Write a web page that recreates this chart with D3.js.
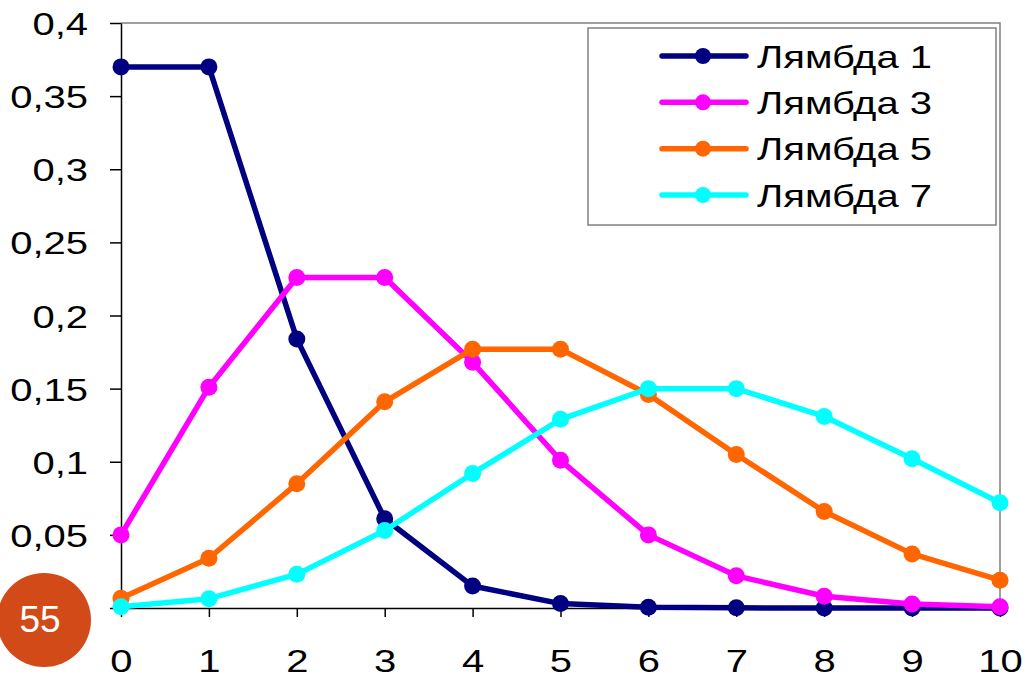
<!DOCTYPE html>
<html>
<head>
<meta charset="utf-8">
<script src="https://cdn.jsdelivr.net/npm/d3@7"></script>
<style>
  body { margin: 0; background: #fff; }
  text { font-family: "Liberation Sans", Arial, sans-serif; }
</style>
</head>
<body>
<div id="chart"></div>
<script>
// values (Poisson probabilities)
var xValues = [0, 1, 2, 3, 4, 5, 6, 7, 8, 9, 10];
var lambda1 = [0.37, 0.37, 0.184, 0.061, 0.015, 0.003, 0.0005, 0.0001, 0, 0, 0];
var lambda3 = [0.050, 0.151, 0.226, 0.226, 0.168, 0.101, 0.050, 0.022, 0.008, 0.0027, 0.0008];
var lambda5 = [0.0067, 0.034, 0.085, 0.141, 0.177, 0.177, 0.146, 0.105, 0.066, 0.037, 0.019];
var lambda7 = [0.0009, 0.0064, 0.023, 0.053, 0.092, 0.129, 0.150, 0.150, 0.131, 0.102, 0.072];
var seriesNames = ["Лямбда 1", "Лямбда 3", "Лямбда 5", "Лямбда 7"];
var seriesColors = ["#000080", "#ff00ff", "#ff6600", "#00ffff"];
var yTicks = [0, 0.05, 0.1, 0.15, 0.2, 0.25, 0.3, 0.35, 0.4];

var series = [lambda1, lambda3, lambda5, lambda7];

var width = 1027, height = 678;
var mLeft = 121, mRight = 1000, mTop = 23, mBottom = 608;
var stretch = 1.25; // the source text is drawn horizontally stretched

var svg = d3.select("#chart").append("svg")
  .attr("width", width)
  .attr("height", height);

var x = d3.scaleLinear().domain([0, 10]).range([mLeft, mRight]);
var y = d3.scaleLinear().domain([0, 0.4]).range([mBottom, mTop]);

// plot frame (top + right in gray)
svg.append("path")
  .attr("d", "M" + mLeft + "," + mTop + "H" + mRight + "V" + mBottom)
  .attr("fill", "none")
  .attr("stroke", "#808080")
  .attr("stroke-width", 1.5);

var fmt = function(d) { return d === 0 ? "0" : String(d).replace(".", ","); };

var yAxis = svg.append("g")
  .attr("transform", "translate(" + mLeft + ",0)")
  .call(d3.axisLeft(y).tickValues(yTicks).tickSize(11).tickFormat(fmt).tickSizeOuter(0));

var xAxis = svg.append("g")
  .attr("transform", "translate(0," + mBottom + ")")
  .call(d3.axisBottom(x).tickValues(xValues).tickSize(9).tickFormat(d3.format("d")).tickSizeOuter(0));

[yAxis, xAxis].forEach(function(a) {
  a.select(".domain").attr("stroke", "#000").attr("stroke-width", 1.5);
  a.selectAll(".tick line").attr("stroke", "#000").attr("stroke-width", 1.5);
  a.selectAll("text").attr("font-size", 32).attr("fill", "#000")
    .attr("font-family", "Liberation Sans, Arial, sans-serif")
    .attr("transform", "scale(" + stretch + ",1)");
});
yAxis.selectAll("text").attr("x", -33 / stretch).attr("dy", "0.36em");
xAxis.selectAll("text").attr("y", 64).attr("dy", null);

var line = d3.line()
  .x(function(d, i) { return x(xValues[i]); })
  .y(function(d) { return y(d); });

series.forEach(function(s, k) {
  var g = svg.append("g");
  g.append("path")
    .datum(s)
    .attr("d", line)
    .attr("fill", "none")
    .attr("stroke", seriesColors[k])
    .attr("stroke-width", 5.5)
    .attr("stroke-linejoin", "round");
  g.selectAll("circle")
    .data(s)
    .enter()
    .append("circle")
    .attr("cx", function(d, i) { return x(xValues[i]); })
    .attr("cy", function(d) { return y(d); })
    .attr("r", 8.5)
    .attr("fill", seriesColors[k]);
});

// legend
var legend = svg.append("g");
legend.append("rect")
  .attr("x", 588).attr("y", 28)
  .attr("width", 408).attr("height", 197)
  .attr("fill", "#fff")
  .attr("stroke", "#808080")
  .attr("stroke-width", 1.5);

var rowY = d3.scalePoint().domain(seriesNames).range([56, 195]);

seriesNames.forEach(function(name, k) {
  var yy = rowY(name);
  legend.append("line")
    .attr("x1", 662).attr("x2", 746)
    .attr("y1", yy).attr("y2", yy)
    .attr("stroke", seriesColors[k])
    .attr("stroke-width", 5.5)
    .attr("stroke-linecap", "round");
  legend.append("circle")
    .attr("cx", 703).attr("cy", yy).attr("r", 8)
    .attr("fill", seriesColors[k]);
  legend.append("text")
    .attr("transform", "translate(757," + yy + ") scale(" + stretch + ",1)")
    .attr("dy", "0.36em")
    .attr("font-size", 32)
    .attr("fill", "#000")
    .text(name);
});

// slide number badge
svg.append("circle")
  .attr("cx", 44).attr("cy", 620).attr("r", 47)
  .attr("fill", "#d24a18");
svg.append("text")
  .attr("x", 40).attr("y", 619)
  .attr("dy", "0.36em")
  .attr("text-anchor", "middle")
  .attr("font-size", 37)
  .attr("font-family", "Open Sans, sans-serif")
  .attr("fill", "#fff")
  .text("55");
</script>
</body>
</html>
